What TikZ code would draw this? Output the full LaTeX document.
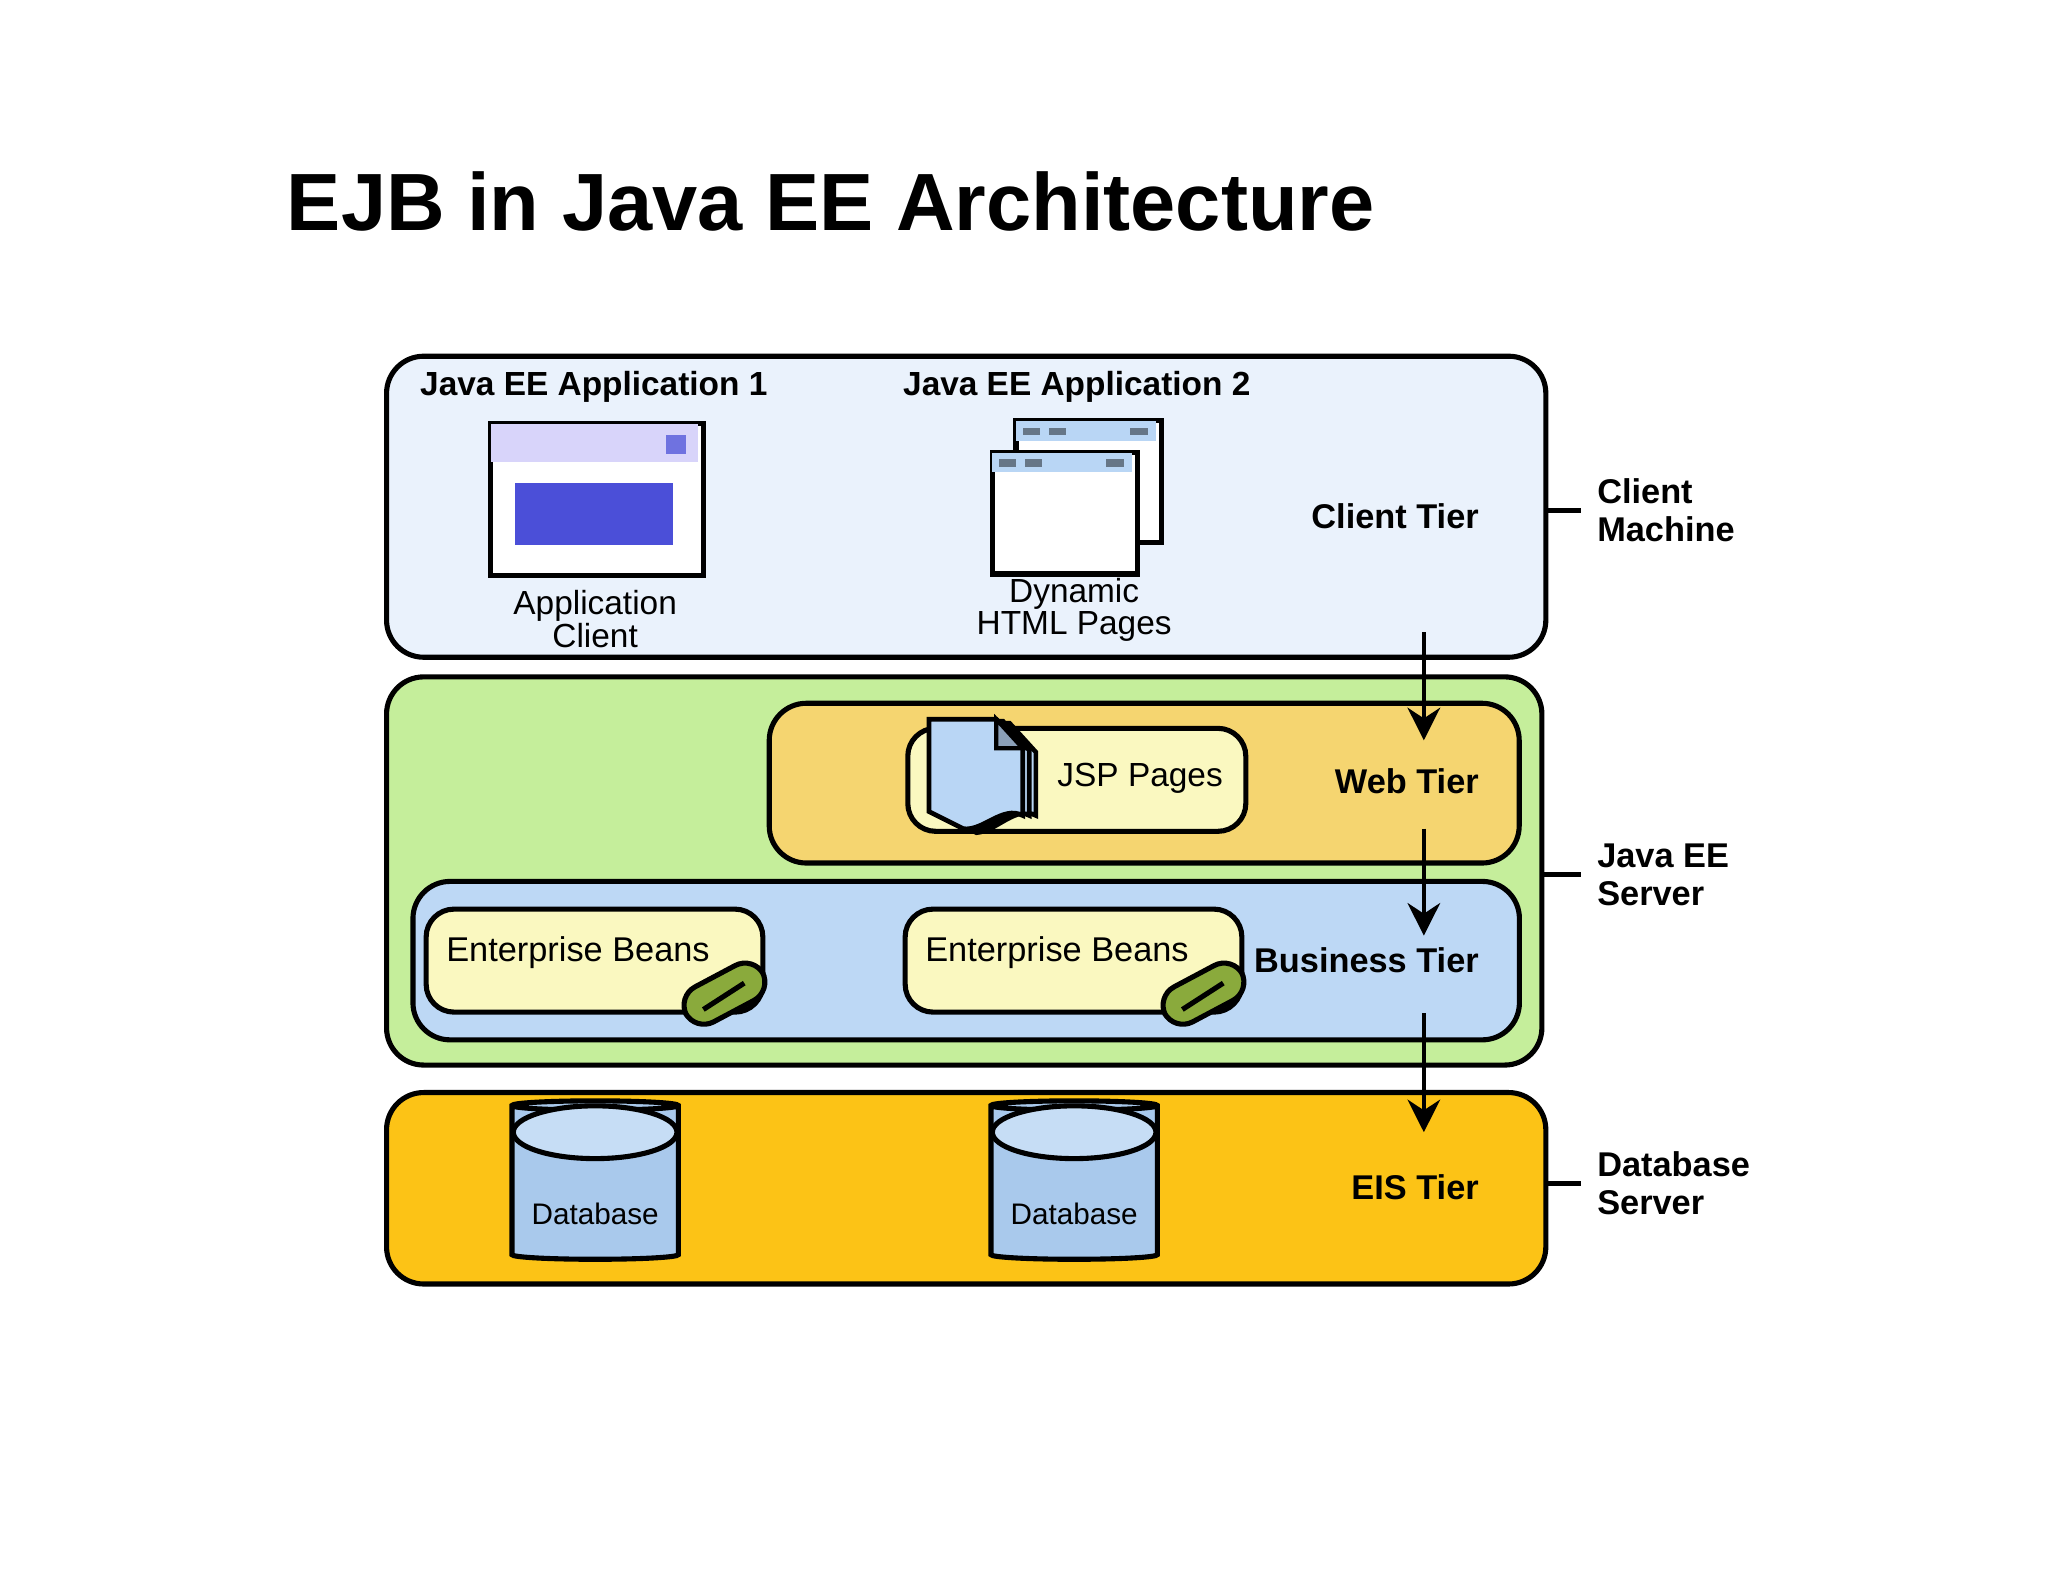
\documentclass[tikz,border=0pt]{standalone}
\usepackage{fontspec}
\setmainfont{Liberation Sans}
\usepackage{tikz}
\usetikzlibrary{shapes.geometric, arrows, arrows.meta}
\definecolor{clientBg}{RGB}{234,242,252}
\definecolor{serverBg}{RGB}{197,238,155}
\definecolor{webBg}{RGB}{245,213,112}
\definecolor{busBg}{RGB}{189,216,245}
\definecolor{eisBg}{RGB}{252,195,22}
\definecolor{compBg}{RGB}{250,248,192}
\definecolor{lavender}{RGB}{216,212,250}
\definecolor{appBlue}{RGB}{75,79,216}
\definecolor{pageBlue}{RGB}{185,214,245}
\definecolor{beanGreen}{RGB}{138,170,60}
\definecolor{dbBlue}{RGB}{169,201,236}
\definecolor{dbTop}{RGB}{198,221,245}
\tikzstyle{tierBox} = [rectangle, rounded corners=8pt, draw=black, line width=1.1pt, anchor=north west]
\tikzstyle{compBox} = [rectangle, rounded corners=6pt, draw=black, line width=1.1pt, fill=compBg, anchor=north west]
\tikzstyle{tierLabel} = [font=\bfseries\fontsize{7.4}{8}\selectfont, anchor=east]
\tikzstyle{sideLabel} = [font=\bfseries\fontsize{7.4}{8.2}\selectfont, anchor=west, align=left]
\tikzstyle{compLabel} = [font=\fontsize{7.2}{8}\selectfont, align=center]
\tikzstyle{arrow} = [line width=1pt,-{Stealth[length=7pt,width=7pt]}]

\begin{document}
\begin{tikzpicture}[x=0.01cm, y=-0.01cm]
    \useasboundingbox (0,0) rectangle (1552,1200);
    \node (title) [anchor=west, font=\bfseries\fontsize{17.5}{20}\selectfont] at (205,153) {EJB in Java EE Architecture};
    % Tiers
    \node (client) [tierBox, fill=clientBg, minimum width=8.78cm, minimum height=2.28cm] at (291,268) {};
    \node (server) [tierBox, fill=serverBg, minimum width=8.75cm, minimum height=2.94cm] at (291,511) {};
    \node (web) [tierBox, fill=webBg, minimum width=5.68cm, minimum height=1.21cm] at (581,531) {};
    \node (business) [tierBox, fill=busBg, minimum width=8.38cm, minimum height=1.20cm] at (311,666) {};
    \node (eis) [tierBox, fill=eisBg, minimum width=8.78cm, minimum height=1.45cm] at (291,826) {};
    % Tier labels
    \node (clientLbl) [tierLabel] at (1133,391) {Client Tier};
    \node (webLbl) [tierLabel] at (1133,592) {Web Tier};
    \node (busLbl) [tierLabel] at (1133,728) {Business Tier};
    \node (eisLbl) [tierLabel] at (1133,900) {EIS Tier};
    % Machines
    \node (clientMachine) [sideLabel] at (1198,387) {Client\\Machine};
    \node (javaServer) [sideLabel] at (1198,663) {Java EE\\Server};
    \node (dbServer) [sideLabel] at (1198,897) {Database\\Server};
    \draw [line width=1.1pt] (client.east |- clientMachine) -- (clientMachine.west);
    \draw [line width=1.1pt] (server.east |- javaServer) -- (javaServer.west);
    \draw [line width=1.1pt] (eis.east |- dbServer) -- (dbServer.west);
    % Applications
    \node (app1) [font=\bfseries\fontsize{7.2}{8}\selectfont] at (450,293) {Java EE Application 1};
    \node (app2) [font=\bfseries\fontsize{7.2}{8}\selectfont] at (816,293) {Java EE Application 2};
    % Application client window
    \node (appWin) [rectangle, draw=black, line width=1.1pt, fill=white, minimum width=1.61cm, minimum height=1.15cm, anchor=north west] at (370,319) {};
    \fill [lavender] (372,321) rectangle (529,350);
    \fill [appBlue!80] (505,330) rectangle (520,344);
    \fill [appBlue] (390,366) rectangle (510,413);
    \node (appClient) [compLabel] at (451,469) {Application\\[-1pt]Client};
    % Dynamic HTML pages
    \foreach \x/\y/\n in {768/317/back, 750/341/front} {
        \node (html\n) [rectangle, draw=black, line width=1.1pt, fill=white, minimum width=1.1cm, minimum height=0.92cm, anchor=north west] at (\x,\y) {};
        \fill [pageBlue] (\x+2,\y+2) rectangle (\x+108,\y+17);
        \fill [black!45!pageBlue] (\x+7,\y+7) rectangle (\x+20,\y+13);
        \fill [black!45!pageBlue] (\x+27,\y+7) rectangle (\x+40,\y+13);
        \fill [black!45!pageBlue] (\x+88,\y+7) rectangle (\x+102,\y+13);
    }
    \node (dynHtml) [compLabel] at (814,462) {Dynamic\\[-1pt]HTML Pages};
    % JSP pages
    \node (jsp) [compBox, minimum width=2.56cm, minimum height=0.78cm] at (686,550) {};
    \node (jspLbl) [compLabel] at (864,590) {JSP Pages};
    \foreach \d in {10,5,0} {
        \draw [line width=1pt, fill=pageBlue] (704+\d,545+\d*0.3) -- (755+\d,545+\d*0.3) -- (775+\d,567+\d*0.3) -- (775+\d,618) .. controls (760+\d,610) and (745+\d,630) .. (730+\d,628+\d*0.3) -- (704+\d,615+\d*0.3) -- cycle;
    }
    \draw [line width=0.9pt, fill=black!25!pageBlue] (755,545) -- (755,567) -- (775,567) -- cycle;
    % Enterprise beans
    \foreach \x/\n in {321/One, 684/Two} {
        \node (beans\n) [compBox, minimum width=2.55cm, minimum height=0.78cm] at (\x,687) {};
        \node [compLabel, font=\fontsize{7.4}{8}\selectfont] at (\x+117,722) {Enterprise Beans};
        \node (bean\n) [rectangle, rounded corners=4.5pt, draw=black, line width=1.1pt, fill=beanGreen, minimum width=0.66cm, minimum height=0.3cm, rotate=28] at (\x+228,753) {};
        \draw [line width=1.1pt] (\x+212,765) -- (\x+243,745);
    }
    % Databases
    \foreach \x/\n in {451/One, 814/Two} {
        \node (db\n) [cylinder, shape border rotate=90, aspect=0.3, draw=black, line width=1.1pt, fill=dbBlue, minimum width=1.26cm, minimum height=1.2cm] at (\x,898) {};
        \draw [line width=1.1pt, fill=dbTop] (\x,858) ellipse (62 and 20);
        \node [compLabel, font=\fontsize{6.4}{7}\selectfont] at (\x,920) {Database};
    }
    % Arrows
    \coordinate (a1) at (1079,479);
    \coordinate (b1) at (1079,561);
    \coordinate (a2) at (1079,628);
    \coordinate (b2) at (1079,709);
    \coordinate (a3) at (1079,768);
    \coordinate (b3) at (1079,858);
    \draw [arrow] (a1) -- (b1);
    \draw [arrow] (a2) -- (b2);
    \draw [arrow] (a3) -- (b3);
\end{tikzpicture}
\end{document}
